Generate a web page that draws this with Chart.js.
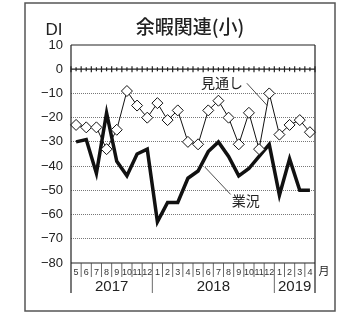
<!DOCTYPE html>
<html>
<head>
<meta charset="utf-8">
<script src="https://cdn.jsdelivr.net/npm/chart.js@4"></script>
<style>
  html, body { margin: 0; padding: 0; background: #fff; }
  #wrap { width: 344px; height: 314px; position: relative; }
</style>
</head>
<body>
<div id="wrap"><canvas id="chart" width="344" height="314"></canvas></div>
<script>
// months from 2017/5 to 2019/4
const months = ['5','6','7','8','9','10','11','12','1','2','3','4','5','6','7','8','9','10','11','12','1','2','3','4'];
const years = [
    { label: '2017', from: 0, to: 8 },
    { label: '2018', from: 8, to: 20 },
    { label: '2019', from: 20, to: 24 }
];
// 見通し (outlook)
const outlook = [-23, -24, -24, -33, -25, -9, -15, -20, -14, -21, -17, -30, -31, -17, -13, -20, -31, -18, -33, -10, -27, -23, -21, -26];
// 業況 (business conditions)
const business = [-30, -29, -43, -18, -38, -44, -35, -33, -63, -55, -55, -45, -42, -34, -30, -36, -44, -41, -36, -31, -52, -37, -50, -50];
const yTicks = [10, 0, -10, -20, -30, -40, -50, -60, -70, -80];

const jp = '"Noto Sans CJK JP", "Noto Sans", sans-serif';
const lat = '"Liberation Sans", Arial, sans-serif';

const decor = {
    id: 'decor',
    beforeDatasetsDraw(chart) {
        const { ctx, chartArea: a, scales: { x, y } } = chart;
        ctx.save();
        // zero line with small ticks
        const y0 = y.getPixelForValue(0);
        ctx.strokeStyle = '#222';
        ctx.lineWidth = 1.2;
        ctx.beginPath();
        ctx.moveTo(a.left, y0); ctx.lineTo(a.right, y0);
        for (let i = 0; i <= months.length * 2; i++) {
            const px = x.getPixelForValue(i / 2 - 0.5);
            const h = i % 2 === 0 ? 3 : 2;
            ctx.moveTo(px, y0 - h); ctx.lineTo(px, y0 + h);
        }
        ctx.stroke();
        ctx.restore();
    },
    afterDraw(chart) {
        const { ctx, chartArea: a, scales: { x, y } } = chart;
        ctx.save();
        // outer frame
        ctx.strokeStyle = '#555';
        ctx.lineWidth = 1.5;
        ctx.strokeRect(25, 3, 310, 308);

        // plot frame
        ctx.strokeStyle = '#222';
        ctx.lineWidth = 1.2;
        ctx.beginPath();
        ctx.moveTo(a.left, a.top); ctx.lineTo(a.right, a.top);
        ctx.moveTo(a.left, a.bottom); ctx.lineTo(a.right, a.bottom);
        ctx.moveTo(a.left, a.top); ctx.lineTo(a.left, a.bottom + 30);
        ctx.moveTo(a.right, a.top); ctx.lineTo(a.right, a.bottom + 30);
        ctx.stroke();

        // month separators and year separators
        ctx.lineWidth = 0.8;
        ctx.strokeStyle = '#444';
        ctx.beginPath();
        for (let i = 1; i < months.length; i++) {
            const px = x.getPixelForValue(i - 0.5);
            const isYear = years.some(yr => yr.from === i);
            ctx.moveTo(px, a.bottom);
            ctx.lineTo(px, a.bottom + (isYear ? 30 : 14));
        }
        ctx.stroke();

        // year labels
        ctx.fillStyle = '#222';
        ctx.font = '15px ' + lat;
        ctx.textAlign = 'center';
        ctx.textBaseline = 'middle';
        years.forEach(yr => {
            const cx = (x.getPixelForValue(yr.from - 0.5) + x.getPixelForValue(yr.to - 0.5)) / 2;
            ctx.fillText(yr.label, cx, a.bottom + 24);
        });

        // 月
        ctx.font = '11px ' + jp;
        ctx.fillText('月', a.right + 9, a.bottom + 8);

        // title and DI
        ctx.font = '500 19px ' + jp;
        ctx.fillText('余暇関連(小)', 190, 27);
        ctx.font = '17px ' + lat;
        ctx.fillText('DI', 54, 30);

        // annotations with leader lines
        ctx.font = '14px ' + jp;
        ctx.fillText('見通し', x.getPixelForValue(14.35), y.getPixelForValue(-5.4));
        ctx.fillText('業況', x.getPixelForValue(16.7), y.getPixelForValue(-54.3));
        ctx.lineWidth = 0.8;
        ctx.strokeStyle = '#222';
        ctx.beginPath();
        ctx.moveTo(x.getPixelForValue(16.8), y.getPixelForValue(-5.8));
        ctx.lineTo(x.getPixelForValue(18.8), y.getPixelForValue(-15));
        ctx.moveTo(x.getPixelForValue(12.67), y.getPixelForValue(-40.4));
        ctx.lineTo(x.getPixelForValue(15.2), y.getPixelForValue(-51.7));
        ctx.stroke();
        ctx.restore();
    }
};

new Chart(document.getElementById('chart'), {
    type: 'line',
    data: {
        labels: months,
        datasets: [
            {
                label: '見通し',
                data: outlook,
                borderColor: '#111',
                borderWidth: 1,
                pointStyle: 'rectRot',
                pointRadius: 5.5,
                pointBackgroundColor: '#fff',
                pointBorderColor: '#111',
                pointBorderWidth: 1,
                tension: 0
            },
            {
                label: '業況',
                data: business,
                borderColor: '#111',
                borderWidth: 3.5,
                borderJoinStyle: 'miter',
                pointRadius: 0,
                tension: 0
            }
        ]
    },
    options: {
        responsive: false,
        animation: false,
        events: [],
        layout: { padding: { left: 0, right: 29, top: 45, bottom: 0 } },
        plugins: {
            legend: { display: false },
            tooltip: { enabled: false },
            title: { display: false }
        },
        scales: {
            x: {
                offset: true,
                grid: { display: false, drawTicks: false },
                border: { display: false },
                ticks: {
                    autoSkip: false,
                    maxRotation: 0,
                    padding: 4,
                    color: '#333',
                    font: { size: 9, family: lat }
                },
                afterFit(scale) { scale.height = 51; }
            },
            y: {
                min: -80,
                max: 10,
                afterBuildTicks(scale) { scale.ticks = yTicks.map(v => ({ value: v })); },
                grid: {
                    drawTicks: false,
                    lineWidth: 1,
                    color: ctx => [10, 0, -80].includes(ctx.tick && ctx.tick.value) ? 'rgba(0,0,0,0)' : '#777'
                },
                border: { display: false, dash: [1, 1] },
                ticks: {
                    padding: 8,
                    color: '#222',
                    font: { size: 13, family: lat },
                    callback: v => String(v).replace('-', '−')
                },
                afterFit(scale) { scale.width = 71; }
            }
        }
    },
    plugins: [decor]
});
</script>
</body>
</html>
